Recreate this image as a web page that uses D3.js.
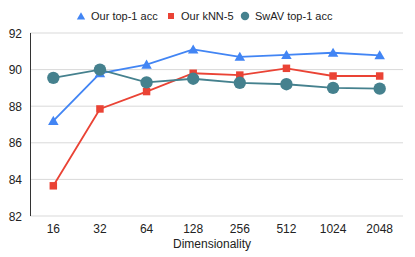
<!DOCTYPE html>
<html lang="en">
<head>
  <meta charset="UTF-8">
  <title>Dimensionality</title>
  <script src="https://d3js.org/d3.v7.min.js"></script>
  <style>
    body { margin: 0; background: #fff; font-family: "Liberation Sans", Arial, sans-serif; }
    svg text { fill: #222; }
  </style>
</head>
<body>
  <svg width="415" height="257"></svg>
  <script>
    const dims = ["16", "32", "64", "128", "256", "512", "1024", "2048"];
    const top1 = [87.2, 89.8, 90.27, 91.1, 90.7, 90.8, 90.92, 90.78];
    const knn5 = [83.65, 87.85, 88.8, 89.8, 89.7, 90.07, 89.65, 89.65];
    const swav = [89.55, 90.0, 89.3, 89.5, 89.28, 89.2, 89.0, 88.96];
    const yTicks = [82, 84, 86, 88, 90, 92];

    const series = [
      { name: "Our top-1 acc", values: top1, color: "#4285f4", shape: "triangle" },
      { name: "Our kNN-5", values: knn5, color: "#ea4335", shape: "square" },
      { name: "SwAV top-1 acc", values: swav, color: "#45818e", shape: "circle" }
    ];

    const svg = d3.select("svg");
    const plotLeft = 30, plotRight = 403, plotTop = 33, plotBottom = 216;

    const x = d3.scaleBand().domain(dims).range([plotLeft, plotRight]);
    const y = d3.scaleLinear().domain([82, 92]).range([plotBottom, plotTop]);

    // gridlines
    svg.selectAll(".grid")
      .data(yTicks)
      .enter()
      .append("line")
      .attr("x1", plotLeft)
      .attr("x2", plotRight)
      .attr("y1", d => y(d))
      .attr("y2", d => y(d))
      .attr("stroke", "#d9d9d9")
      .attr("stroke-width", 1);

    svg.append("line")
      .attr("x1", plotLeft + 0.5).attr("x2", plotLeft + 0.5)
      .attr("y1", plotTop).attr("y2", plotBottom)
      .attr("stroke", "#333");

    svg.selectAll(".ylab")
      .data(yTicks)
      .enter()
      .append("text")
      .attr("x", 22)
      .attr("y", d => y(d) + 4.5)
      .attr("text-anchor", "end")
      .attr("font-size", 12)
      .text(d => d);

    svg.selectAll(".xlab")
      .data(dims)
      .enter()
      .append("text")
      .attr("x", d => x(d) + x.bandwidth() / 2)
      .attr("y", 233)
      .attr("text-anchor", "middle")
      .attr("font-size", 12)
      .text(d => d);

    svg.append("text")
      .attr("x", 212)
      .attr("y", 248)
      .attr("text-anchor", "middle")
      .attr("font-size", 12)
      .text("Dimensionality");

    const cx = (d, i) => x(dims[i]) + x.bandwidth() / 2;
    const line = d3.line().x((d, i) => cx(d, i)).y(d => y(d));

    const markSize = { triangle: 48, square: 56, circle: 120 };
    const legendSize = { triangle: 30, square: 36, circle: 56 };
    const symType = { triangle: d3.symbolTriangle, square: d3.symbolSquare, circle: d3.symbolCircle };

    // series drawn in order, so SwAV ends up on top
    series.forEach(s => {
      svg.append("path")
        .attr("d", line(s.values))
        .attr("fill", "none")
        .attr("stroke", s.color)
        .attr("stroke-width", 1.8);
      svg.selectAll(null)
        .data(s.values)
        .enter()
        .append("path")
        .attr("d", d3.symbol().type(symType[s.shape]).size(markSize[s.shape]))
        .attr("transform", (d, i) => `translate(${cx(d, i)},${y(d) + (s.shape === "triangle" ? 1 : 0)})`)
        .attr("fill", s.color);
    });

    // legend
    const legendX = [81, 171, 245];
    series.forEach((s, i) => {
      svg.append("path")
        .attr("d", d3.symbol().type(symType[s.shape]).size(legendSize[s.shape])())
        .attr("transform", `translate(${legendX[i]},${s.shape === "triangle" ? 17 : 16})`)
        .attr("fill", s.color);
      svg.append("text")
        .attr("x", legendX[i] + 10)
        .attr("y", 20)
        .attr("font-size", 11)
        .text(s.name);
    });
  </script>
</body>
</html>
